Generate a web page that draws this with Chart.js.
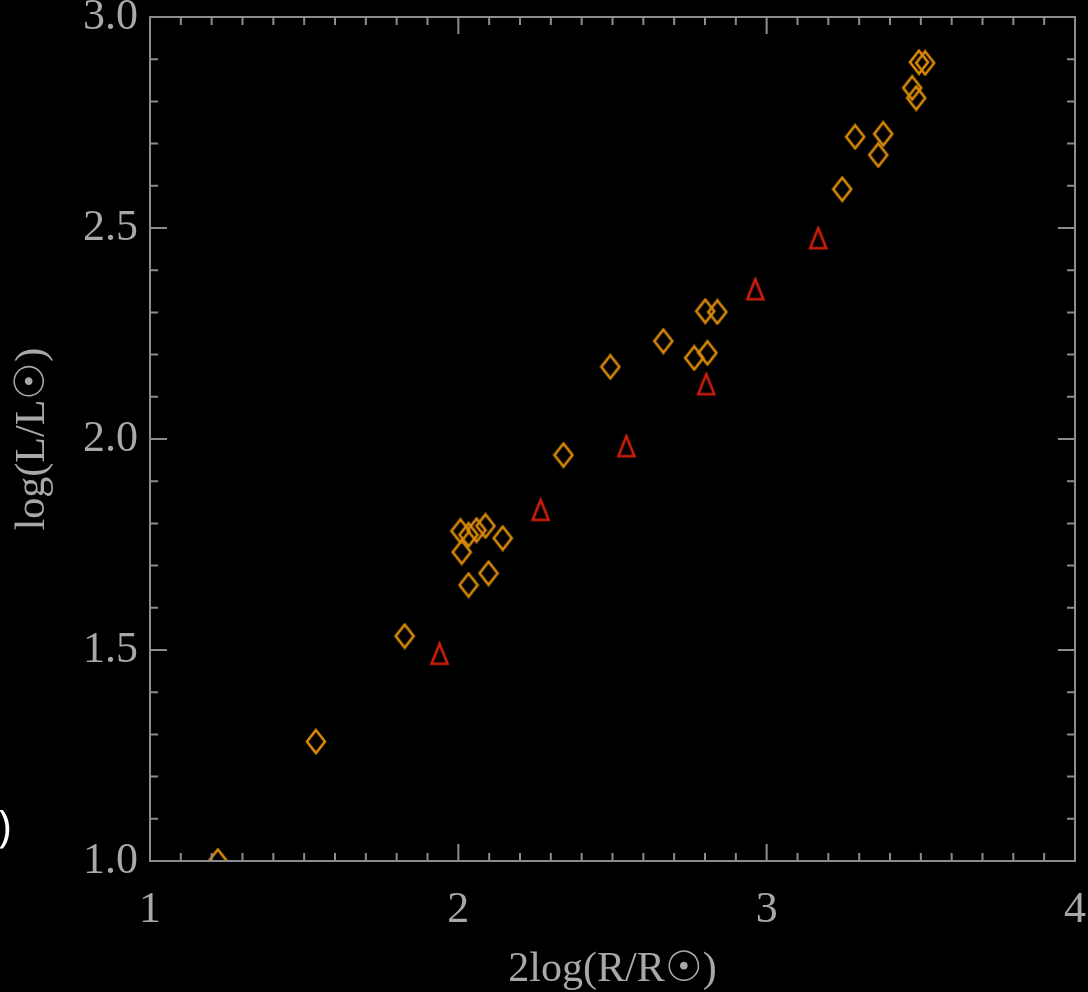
<!DOCTYPE html>
<html>
<head>
<meta charset="utf-8">
<script src="https://cdn.jsdelivr.net/npm/chart.js@4.4.1/dist/chart.umd.min.js"></script>
<style>
  html, body { margin: 0; padding: 0; background: #000; }
  #wrap { width: 1088px; height: 992px; }
</style>
</head>
<body>
<div id="wrap"><canvas id="myChart"></canvas></div>
<script>
// diamonds (orange)
let diamX = [1.22, 1.538, 1.826, 2.007, 2.033, 2.059, 2.088, 2.011, 2.144, 2.098, 2.033,
             2.341, 2.493, 2.665, 2.801, 2.840, 2.765, 2.808, 3.245, 3.287, 3.378, 3.362,
             3.472, 3.485, 3.494, 3.514]
let diamY = [1.00, 1.283, 1.533, 1.782, 1.773, 1.784, 1.794, 1.732, 1.765, 1.682, 1.654,
             1.962, 2.171, 2.232, 2.303, 2.301, 2.192, 2.204, 2.592, 2.716, 2.723, 2.673,
             2.832, 2.808, 2.893, 2.891]
// triangles (red)
let triX = [1.939, 2.267, 2.545, 2.804, 2.963, 3.167]
let triY = [1.491, 1.832, 1.983, 2.130, 2.355, 2.476]

let xTicks = [1, 2, 3, 4]
let yTicks = [1.0, 1.5, 2.0, 2.5, 3.0]

const axisColor = '#8c8c8c'
const textColor = '#a8a8a8'
const serif = "'Liberation Serif', 'DejaVu Serif', serif"

function toPoints(xs, ys) {
    let pts = []
    for (let i = 0; i < xs.length; i++) {
        pts.push({ x: xs[i], y: ys[i] })
    }
    return pts
}

// marker images: tall diamond and tall triangle
function diamondImg(color) {
    const c = document.createElement('canvas')
    c.width = 22; c.height = 27
    const g = c.getContext('2d')
    g.strokeStyle = color
    g.lineWidth = 2.6
    g.beginPath()
    g.moveTo(11, 2); g.lineTo(20, 13.5); g.lineTo(11, 25); g.lineTo(2, 13.5)
    g.closePath()
    g.stroke()
    return c
}
function triangleImg(color) {
    const c = document.createElement('canvas')
    c.width = 21; c.height = 25
    const g = c.getContext('2d')
    g.strokeStyle = color
    g.lineWidth = 2.6
    g.beginPath()
    g.moveTo(10.5, 2.5); g.lineTo(18.5, 22.5); g.lineTo(2.5, 22.5)
    g.closePath()
    g.stroke()
    return c
}

const frame = {
    id: 'frame',
    beforeDraw(chart) {
        const ctx = chart.ctx
        ctx.save()
        ctx.fillStyle = '#000'
        ctx.fillRect(0, 0, chart.width, chart.height)
        ctx.restore()
    },
    afterDatasetsDraw(chart) {
        const ctx = chart.ctx
        const a = chart.chartArea
        const xs = chart.scales.x, ys = chart.scales.y
        ctx.save()
        ctx.strokeStyle = axisColor
        ctx.lineWidth = 2
        ctx.strokeRect(a.left, a.top, a.right - a.left, a.bottom - a.top)
        ctx.beginPath()
        for (let i = 10; i <= 40; i++) {
            const v = i / 10
            const len = (i % 10 == 0) ? 17 : 8
            const px = xs.getPixelForValue(v)
            ctx.moveTo(px, a.bottom); ctx.lineTo(px, a.bottom - len)
            ctx.moveTo(px, a.top); ctx.lineTo(px, a.top + len)
        }
        for (let i = 10; i <= 30; i++) {
            const v = i / 10
            const len = (i % 5 == 0) ? 17 : 8
            const py = ys.getPixelForValue(v)
            ctx.moveTo(a.left, py); ctx.lineTo(a.left + len, py)
            ctx.moveTo(a.right, py); ctx.lineTo(a.right - len, py)
        }
        ctx.stroke()
        // stray bracket at the left edge of the picture
        ctx.fillStyle = '#ffffff'
        ctx.font = "44px 'Open Sans', sans-serif"
        ctx.textBaseline = 'middle'
        ctx.textAlign = 'left'
        ctx.fillText(')', -2, 828)
        ctx.restore()
    }
}

const ctx = document.getElementById('myChart').getContext('2d')
const myChart = new Chart(ctx, {
    type: 'scatter',
    data: {
        datasets: [{
            label: 'diamonds',
            data: toPoints(diamX, diamY),
            pointStyle: diamondImg('#d98a08'),
            clip: 0
        }, {
            label: 'triangles',
            data: toPoints(triX, triY),
            pointStyle: triangleImg('#cc1e0c'),
            clip: 0
        }]
    },
    options: {
        responsive: true,
        maintainAspectRatio: false,
        animation: false,
        layout: { padding: { left: 0, right: 13, top: 17, bottom: 0 } },
        plugins: {
            legend: { display: false },
            tooltip: { enabled: false }
        },
        scales: {
            x: {
                type: 'linear',
                min: 1,
                max: 4,
                afterBuildTicks: s => { s.ticks = xTicks.map(v => ({ value: v })) },
                afterFit: s => { s.height = 131; s.paddingLeft = 0; s.paddingRight = 0 },
                grid: { display: false, drawTicks: false },
                border: { display: false },
                ticks: {
                    color: textColor,
                    font: { family: serif, size: 44 },
                    padding: 23,
                    maxRotation: 0,
                    callback: v => String(v)
                },
                title: {
                    display: true,
                    text: '2log(R/R☉)',
                    color: textColor,
                    font: { family: serif, size: 42 },
                    padding: { top: 0, bottom: -3 }
                }
            },
            y: {
                type: 'linear',
                min: 1,
                max: 3,
                afterBuildTicks: s => { s.ticks = yTicks.map(v => ({ value: v })) },
                afterFit: s => { s.width = 150; s.paddingTop = 0; s.paddingBottom = 0 },
                grid: { display: false, drawTicks: false },
                border: { display: false },
                ticks: {
                    color: textColor,
                    font: { family: serif, size: 44 },
                    padding: 12,
                    callback: v => v.toFixed(1)
                },
                title: {
                    display: true,
                    text: 'log(L/L☉)',
                    color: textColor,
                    font: { family: serif, size: 42 },
                    padding: { top: 8, bottom: 0 }
                }
            }
        }
    },
    plugins: [frame]
})
</script>
</body>
</html>
